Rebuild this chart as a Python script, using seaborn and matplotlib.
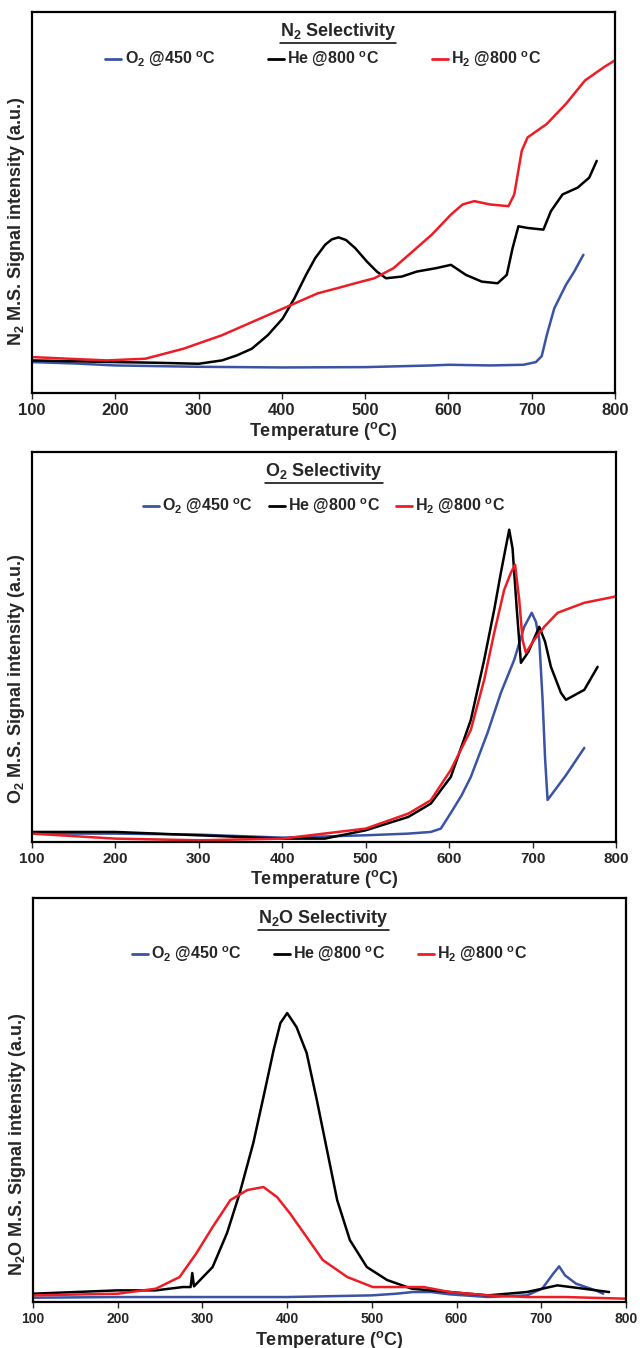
import pandas as pd
import seaborn as sns
import matplotlib.pyplot as plt
from matplotlib.lines import Line2D

# ---- data (arbitrary units) ----
# N2 selectivity
n2_blue_t = [100, 150, 200, 250, 300, 400, 500, 580, 600, 650, 690, 705, 712, 718, 727, 741, 751, 762]
n2_blue_y = [92, 88, 82, 80, 78, 76, 77, 82, 84, 82, 84, 92, 110, 172, 252, 322, 362, 412]
n2_black_t = [100, 200, 250, 300, 328, 346, 364, 383, 401, 415, 429, 440, 452, 460, 468, 477, 488, 502, 514,
              525, 544, 562, 585, 603, 621, 640, 659, 670, 677, 684, 695, 714, 723, 737, 755, 769, 778]
n2_black_y = [97, 92, 90, 87, 97, 112, 132, 172, 222, 282, 352, 402, 442, 458, 464, 456, 432, 392, 362,
              342, 347, 362, 372, 382, 352, 332, 327, 352, 432, 497, 492, 487, 542, 592, 612, 642, 692]
n2_red_t = [100, 144, 190, 236, 259, 282, 305, 328, 351, 374, 397, 420, 443, 466, 488, 511, 534, 557,
            580, 603, 617, 631, 650, 672, 679, 688, 695, 718, 741, 764, 787, 800]
n2_red_y = [107, 102, 97, 102, 117, 132, 152, 172, 197, 222, 247, 272, 297, 312, 327, 342, 372, 422,
            472, 532, 562, 572, 562, 557, 592, 722, 762, 802, 862, 932, 972, 992]

# O2 selectivity
o2_blue_t = [100, 200, 300, 400, 500, 551, 578, 590, 602, 615, 626, 646, 662, 678, 690, 699, 704, 708,
             712, 715, 718, 740, 762]
o2_blue_y = [25, 25, 22, 13, 20, 25, 30, 40, 87, 140, 195, 327, 447, 546, 645, 687, 660, 606,
             426, 250, 126, 200, 282]
o2_black_t = [100, 200, 300, 400, 451, 500, 551, 578, 602, 626, 642, 654, 662, 668, 672, 676, 681, 686,
              695, 708, 715, 722, 734, 740, 762, 778]
o2_black_y = [30, 30, 20, 10, 10, 35, 75, 115, 195, 366, 546, 696, 807, 885, 936, 880, 700, 537,
              570, 645, 600, 525, 447, 426, 456, 525]
o2_red_t = [100, 200, 300, 400, 500, 551, 578, 602, 626, 642, 654, 666, 674, 679, 684, 688, 692, 702,
            714, 730, 762, 798, 800]
o2_red_y = [25, 10, 5, 10, 40, 85, 125, 216, 336, 486, 627, 756, 807, 831, 726, 606, 567, 606,
            645, 687, 717, 735, 737]

# N2O selectivity
n2o_blue_t = [100, 200, 300, 400, 500, 529, 548, 570, 592, 637, 683, 701, 714, 721, 728, 741, 764, 773]
n2o_blue_y = [13, 15, 15, 15, 20, 25, 30, 30, 23, 15, 20, 40, 85, 107, 80, 55, 35, 25]
n2o_black_t = [100, 200, 245, 277, 286, 288, 290, 312, 329, 344, 360, 372, 384, 392, 400, 411, 423, 435,
               447, 459, 474, 494, 518, 547, 592, 637, 683, 719, 750, 780]
n2o_black_y = [25, 35, 35, 45, 45, 87, 47, 105, 207, 327, 477, 615, 756, 837, 867, 825, 747, 606,
               456, 306, 186, 105, 66, 40, 30, 20, 30, 50, 40, 30]
n2o_red_t = [100, 200, 245, 273, 293, 312, 333, 353, 372, 388, 403, 423, 442, 471, 501, 525, 561, 592,
             637, 683, 728, 800]
n2o_red_y = [20, 25, 40, 75, 147, 225, 306, 336, 345, 315, 267, 195, 126, 75, 45, 45, 45, 30,
             20, 15, 15, 10]

labels = ['O$_2$ @450 $^{\\mathbf{o}}$C', 'He @800 $^{\\mathbf{o}}$C', 'H$_2$ @800 $^{\\mathbf{o}}$C']
colors = ['#3a53a4', '#000000', '#ee1c24']
xticks = [100, 200, 300, 400, 500, 600, 700, 800]


def make_df(series):
    frames = []
    for lab, (t, y) in zip(labels, series):
        frames.append(pd.DataFrame({'T': t, 'S': y, 'run': lab}))
    return pd.concat(frames, ignore_index=True)


sns.set_style('white')
plt.rcParams['font.family'] = ['Liberation Sans', 'DejaVu Sans']
plt.rcParams['font.weight'] = 'bold'
plt.rcParams['mathtext.fontset'] = 'custom'
plt.rcParams['mathtext.rm'] = 'Liberation Sans:bold'
plt.rcParams['mathtext.bf'] = 'Liberation Sans:bold'
plt.rcParams['mathtext.it'] = 'Liberation Sans:bold'

fig = plt.figure(figsize=(6.4, 13.48), dpi=100)

panels = [
    dict(rect=[0.050, 0.7085, 0.911, 0.2826], ytop=1136, title='N$_2$ Selectivity', tx=0.525,
         ylab='N$_2$ M.S. Signal intensity (a.u.)', ylc=0.45, tick=12,
         data=[(n2_blue_t, n2_blue_y), (n2_black_t, n2_black_y), (n2_red_t, n2_red_y)],
         leg_y=0.875, colsp=3.3),
    dict(rect=[0.050, 0.3754, 0.9125, 0.2893], ytop=1169, title='O$_2$ Selectivity', tx=0.5,
         ylab='O$_2$ M.S. Signal intensity (a.u.)', ylc=0.42, tick=11,
         data=[(o2_blue_t, o2_blue_y), (o2_black_t, o2_black_y), (o2_red_t, o2_red_y)],
         leg_y=0.86, colsp=1.0),
    dict(rect=[0.0516, 0.0341, 0.9266, 0.2997], ytop=1212, title='N$_2$O Selectivity', tx=0.49,
         ylab='N$_2$O M.S. Signal intensity (a.u.)', ylc=0.39, tick=10,
         data=[(n2o_blue_t, n2o_blue_y), (n2o_black_t, n2o_black_y), (n2o_red_t, n2o_red_y)],
         leg_y=0.86, colsp=2.0),
]

titles = []
for p in panels:
    ax = fig.add_axes(p['rect'])
    df = make_df(p['data'])
    sns.lineplot(data=df, x='T', y='S', hue='run', palette=colors, sort=False,
                 estimator=None, lw=1.8, ax=ax)
    ax.set_xlim(100, 800)
    ax.set_ylim(0, p['ytop'])
    ax.set_xticks(xticks)
    ax.set_yticks([])
    ax.tick_params(axis='x', direction='out', length=4, width=1, labelsize=p['tick'], pad=3, bottom=True)
    for lab in ax.get_xticklabels():
        lab.set_fontweight('bold')
    for s in ax.spines.values():
        s.set_color('black')
        s.set_linewidth(1.6)
    ax.set_xlabel('Temperature ($^{\\mathbf{o}}$C)', fontsize=13, fontweight='bold', labelpad=2)
    ax.set_ylabel(p['ylab'], fontsize=13, fontweight='bold')
    ax.yaxis.set_label_coords(-0.008, p['ylc'])
    t = ax.text(p['tx'], 0.95, p['title'], transform=ax.transAxes, ha='center', va='center',
                fontsize=13, fontweight='bold')
    titles.append(t)
    leg = ax.legend(loc='center', bbox_to_anchor=(0.5, p['leg_y']), ncol=3, frameon=False,
                    handlelength=1.0, handletextpad=0.2, columnspacing=p['colsp'],
                    prop={'size': 11.5, 'weight': 'bold'})
    for h in leg.get_lines():
        h.set_linewidth(2)

# underline the panel titles
fig.canvas.draw()
renderer = fig.canvas.get_renderer()
inv = fig.transFigure.inverted()
for t in titles:
    bb = t.get_window_extent(renderer)
    (x0, y0), (x1, _) = inv.transform([(bb.x0, bb.y0 - 1), (bb.x1, bb.y0 - 1)])
    fig.add_artist(Line2D([x0, x1], [y0, y0], color='black', lw=1.1, transform=fig.transFigure))

fig.savefig('out.png', dpi=100)
